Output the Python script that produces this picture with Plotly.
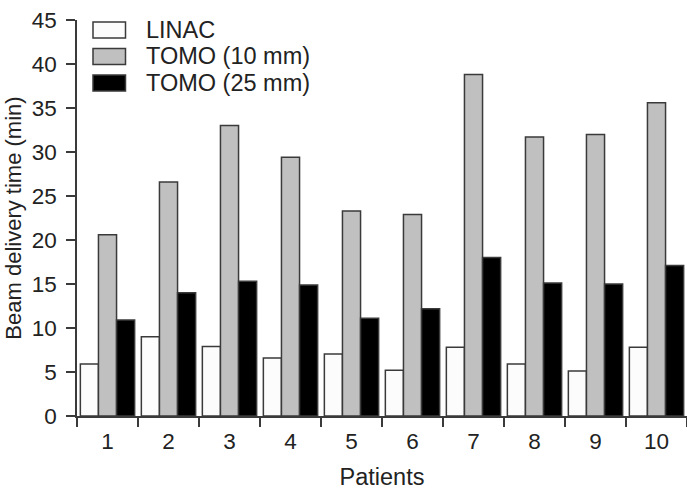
import plotly.graph_objects as go

patients = ["1", "2", "3", "4", "5", "6", "7", "8", "9", "10"]
series_names = ["LINAC", "TOMO (10 mm)", "TOMO (25 mm)"]
linac = [5.9, 9.0, 7.9, 6.6, 7.05, 5.2, 7.8, 5.9, 5.1, 7.8]
tomo10 = [20.6, 26.6, 33.0, 29.4, 23.3, 22.9, 38.8, 31.7, 32.0, 35.6]
tomo25 = [10.9, 14.0, 15.3, 14.9, 11.1, 12.2, 18.0, 15.1, 15.0, 17.1]
y_ticks = [0, 5, 10, 15, 20, 25, 30, 35, 40, 45]

fills = ["#fcfcfc", "#c0c0c0", "#000000"]
edge = "#3a3a3a"
font_family = "Liberation Sans, Arial, Helvetica, sans-serif"
txt_color = "#222222"

W, H = 687, 490
L, R, T, B = 77, 0, 20, 74
pw, ph = W - L - R, H - T - B

fig = go.Figure()
for name, vals, col in zip(series_names, [linac, tomo10, tomo25], fills):
    fig.add_trace(go.Bar(
        x=patients, y=vals, name=name,
        marker=dict(color=col, line=dict(color=edge, width=1.5)),
        showlegend=False,
    ))

# manual legend (wide rectangular swatches)
def px_to_paper_x(px):
    return (px - L) / pw

def px_to_paper_y(py):
    return (H - B - py) / ph

shapes = []
annotations = []
row_centers = [30, 56.5, 83]
for name, col, cy in zip(series_names, fills, row_centers):
    shapes.append(dict(
        type="rect", xref="paper", yref="paper",
        x0=px_to_paper_x(93), x1=px_to_paper_x(125.5),
        y0=px_to_paper_y(cy + 8), y1=px_to_paper_y(cy - 8),
        fillcolor=col, line=dict(color=edge, width=1.5),
    ))
    annotations.append(dict(
        xref="paper", yref="paper", x=px_to_paper_x(144), y=px_to_paper_y(cy),
        text=name, showarrow=False, xanchor="left", yanchor="middle",
        font=dict(size=23.5, color=txt_color, family=font_family),
    ))

fig.update_layout(
    width=W, height=H,
    margin=dict(l=L, r=R, t=T, b=B, pad=0),
    paper_bgcolor="white", plot_bgcolor="white",
    barmode="group", bargap=0.11, bargroupgap=0,
    font=dict(family=font_family, color=txt_color, size=22),
    shapes=shapes, annotations=annotations,
    xaxis=dict(
        type="category", tickson="boundaries", ticks="outside", ticklen=9,
        tickwidth=1.5, tickcolor=edge, showline=True, linecolor=edge, linewidth=1.5,
        showgrid=False, zeroline=False, tickfont=dict(size=22.5), ticklabelstandoff=4,
        title=dict(text="Patients", font=dict(size=23.5), standoff=16),
    ),
    yaxis=dict(
        range=[0, 45], tickvals=y_ticks, ticks="outside", ticklen=9, tickwidth=1.5,
        tickcolor=edge, showline=True, linecolor=edge, linewidth=1.5,
        showgrid=False, zeroline=False, tickfont=dict(size=22.5), ticklabelstandoff=5,
        title=dict(text="Beam delivery time (min)", font=dict(size=22), standoff=4),
    ),
)

fig.write_html("out.html")
